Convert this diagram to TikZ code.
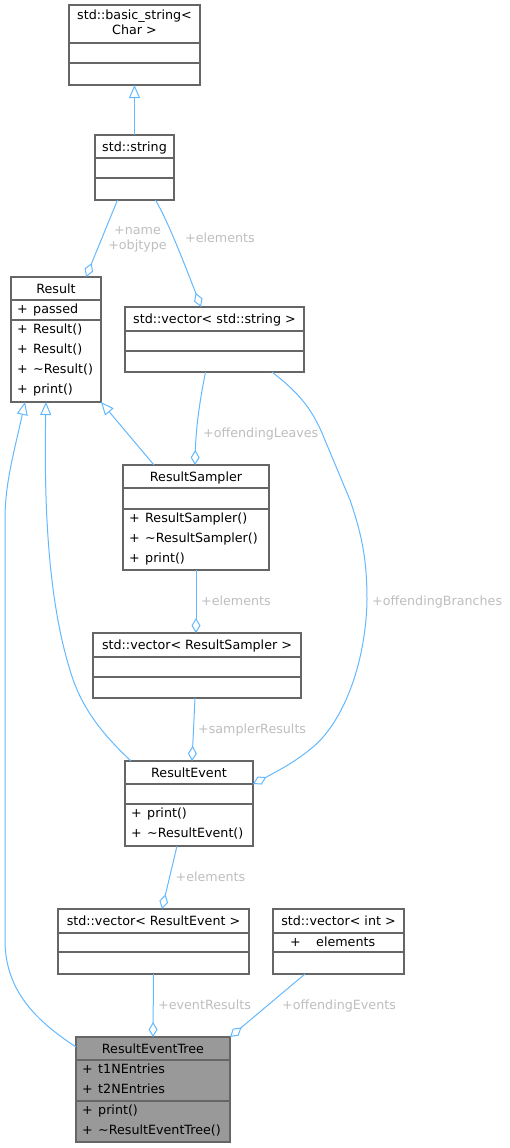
\documentclass[tikz,border=0pt]{standalone}
\usepackage{fontspec}
\setmainfont{DejaVu Sans}
\usetikzlibrary{arrows.meta,bending}
\definecolor{edge}{HTML}{63B8FF}
\definecolor{bord}{HTML}{666666}
\definecolor{lab}{HTML}{BEBEBE}
\definecolor{tree}{HTML}{999999}
\newcommand\umlbox[8]{%
  \node[cls, fill=#8, minimum width={(#4-#2)*1pt}, minimum height={(#5-#3)*1pt}] (#1) at (#2,#3) {};
  \draw[sepl] (#2,#6) -- (#4,#6);
  \draw[sepl] (#2,#7) -- (#4,#7);
}
\newcommand\umlrow[4]{%
  \node[txt] (#1p) at (#2+6,#3) {+};
  \node[txt] (#1) at (#2+22,#3) {#4};
}
\begin{document}
\begin{tikzpicture}[x=1pt,y=-1pt, font=\fontsize{12.7}{15}\selectfont,
 cls/.style={draw=bord, line width=1.2pt, inner sep=0pt, outer sep=0pt, anchor=north west},
 sepl/.style={draw=bord, line width=1.2pt},
 txt/.style={inner sep=0pt, anchor=base west},
 ttl/.style={inner sep=0pt, anchor=base},
 lbl/.style={inner sep=0pt, anchor=base west, text=lab},
 inh/.style={draw=edge, line width=1pt, -{Triangle[open, length=13pt, width=11pt]}},
 agg/.style={draw=edge, line width=1pt, -{Diamond[open, length=15pt, width=9pt]}},
]
\useasboundingbox (0,0) rectangle (509,1148);

% boxes
\umlbox{bs}{69}{5}{200}{85}{43}{63}{white}
\umlbox{str}{95}{135}{174}{200}{158}{178}{white}
\umlbox{res}{11}{277}{101}{402}{300}{320}{white}
\umlbox{vstr}{125}{307}{304}{372}{331}{351}{white}
\umlbox{rs}{123}{465}{269}{570}{488}{509}{white}
\umlbox{vrs}{93}{633}{301}{698}{657}{677}{white}
\umlbox{re}{125}{761}{253}{846}{784}{804}{white}
\umlbox{vre}{58}{909}{249}{974}{933}{952}{white}
\umlbox{vint}{273}{909}{404}{974}{933}{952}{white}
\umlbox{ret}{76}{1037}{230}{1142}{1060}{1101}{tree}

% titles
\node[ttl] (bst1) at (134.5,20) {std::basic\_string<};
\node[ttl] (bst2) at (134.5,35) {Char >};
\node[ttl] (strt) at (134.5,151) {std::string};
\node[ttl] (rest) at (56,293) {Result};
\node[ttl] (vstrt) at (214.5,323) {std::vector< std::string >};
\node[ttl] (rst) at (196,481) {ResultSampler};
\node[ttl] (vrst) at (197,649) {std::vector< ResultSampler >};
\node[ttl] (ret0) at (189,777) {ResultEvent};
\node[ttl] (vret) at (153.5,925) {std::vector< ResultEvent >};
\node[ttl] (vintt) at (338.5,925) {std::vector< int >};
\node[ttl] (rett) at (153,1053) {ResultEventTree};

% members
\umlrow{resa}{11}{313}{passed}
\umlrow{resm1}{11}{333}{Result()}
\umlrow{resm2}{11}{353}{Result()}
\umlrow{resm3}{11}{373}{\textasciitilde Result()}
\umlrow{resm4}{11}{393}{print()}
\umlrow{rsm1}{123}{522}{ResultSampler()}
\umlrow{rsm2}{123}{542}{\textasciitilde ResultSampler()}
\umlrow{rsm3}{123}{562}{print()}
\umlrow{rem1}{125}{817}{print()}
\umlrow{rem2}{125}{837}{\textasciitilde ResultEvent()}
\node[txt] (vintap) at (290,946) {+};
\node[txt] (vinta) at (316,946) {elements};
\umlrow{reta1}{76}{1073}{t1NEntries}
\umlrow{reta2}{76}{1093}{t2NEntries}
\umlrow{retm1}{76}{1114}{print()}
\umlrow{retm2}{76}{1134}{\textasciitilde ResultEventTree()}

% edges
\draw[inh] (str.north) -- (bs.south);
\draw[agg] ([xshift=-17pt]str.south) -- ([xshift=30pt]res.north);
\draw[agg] ([xshift=21pt]str.south) .. controls (162,212) and (170,225) .. ([xshift=-13.5pt]vstr.north);
\draw[agg] ([xshift=-9pt]vstr.south) .. controls (200,400) and (195,430) .. ([xshift=-1pt]rs.north);
\draw[agg] ([xshift=57.5pt]vstr.south) .. controls (295,390) and (310,405) .. (322,433)
   -- (350,500) .. controls (362,535) and (367,560) .. (367,600)
   .. controls (366,660) and (345,720) .. (313,747)
   .. controls (295,762) and (280,770) .. ([yshift=19.5pt]re.east);
\draw[inh] ([xshift=-42pt]rs.north) -- (res.south east);
\draw[agg] (rs.south) -- ([xshift=-1pt]vrs.north);
\draw[agg] ([xshift=-2pt]vrs.south) -- ([xshift=3pt]re.north);
\draw[inh] ([xshift=-58pt]re.north) .. controls (100,732) and (80,705) .. (70,670)
   .. controls (45,590) and (44,480) .. ([xshift=-10pt]res.south);
\draw[inh] ([yshift=42.5pt]ret.west) .. controls (35,1020) and (5,990) .. (5,940)
   -- (5,520) .. controls (5,480) and (15,450) .. ([xshift=-31pt]res.south);
\draw[agg] ([xshift=-12pt]re.south) -- ([xshift=8.5pt]vre.north);
\draw[agg] (vre.south) -- (ret.north);
\draw[agg] ([xshift=-33.5pt]vint.south) -- (ret.north east);

% labels
\node[inner sep=0pt, text=lab, align=center, anchor=base] (l1) at (137.5,249) {+name\\+objtype};
\node[lbl] (l2) at (185,242) {+elements};
\node[lbl] (l3) at (203,437) {+offendingLeaves};
\node[lbl] (l4) at (201,605) {+elements};
\node[lbl] (l5) at (372,605) {+offendingBranches};
\node[lbl] (l6) at (198,733) {+samplerResults};
\node[lbl] (l7) at (175.5,881) {+elements};
\node[lbl] (l8) at (158,1009) {+eventResults};
\node[lbl] (l9) at (282,1009) {+offendingEvents};
\end{tikzpicture}
\end{document}
